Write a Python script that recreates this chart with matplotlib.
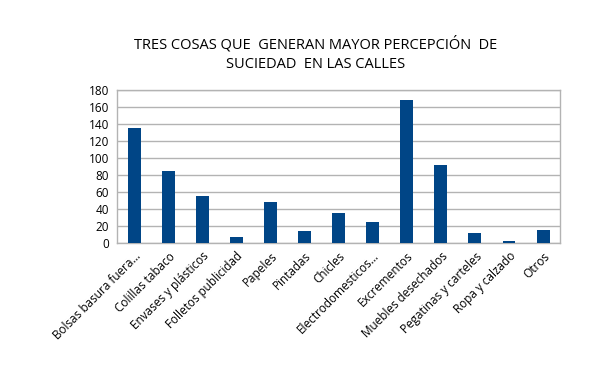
import matplotlib
matplotlib.use("Agg")
import matplotlib.pyplot as plt

categories = ["Bolsas basura fuera…", "Colillas tabaco", "Envases y plásticos", "Folletos publicidad",
              "Papeles", "Pintadas", "Chicles", "Electrodomesticos…", "Excrementos",
              "Muebles desechados", "Pegatinas y carteles", "Ropa y calzado", "Otros"]
values = [135, 85, 55, 7, 48, 14, 35, 25, 168, 92, 11, 2, 15]
yticks = [0, 20, 40, 60, 80, 100, 120, 140, 160, 180]
title = "TRES COSAS QUE  GENERAN MAYOR PERCEPCIÓN  DE\nSUCIEDAD  EN LAS CALLES"

plt.rcParams['font.family'] = ['Open Sans', 'DejaVu Sans']
fig = plt.figure(figsize=(6.01, 3.73), dpi=100)
ax = fig.add_axes([0.195, 0.349, 0.737, 0.41])
x = list(range(len(categories)))
ax.bar(x, values, width=0.38, color="#004586", zorder=3)
ax.set_xlim(-0.5, len(categories) - 0.5)
ax.set_ylim(0, 180)
ax.set_yticks(yticks)
ax.set_xticks(x)
ax.set_xticklabels(categories, rotation=45, ha="right", rotation_mode="anchor", fontsize=8.5)
ax.tick_params(axis="y", labelsize=8.5, length=0, pad=6)
ax.tick_params(axis="x", length=0, pad=5)
ax.grid(axis="y", color="#b3b3b3", linewidth=1, zorder=0)
for s in ax.spines.values():
    s.set_color("#b3b3b3")
    s.set_linewidth(1)
fig.text(0.525, 0.855, title, ha="center", va="center", fontsize=10.5, linespacing=1.35)
fig.savefig("out.png", dpi=100)
